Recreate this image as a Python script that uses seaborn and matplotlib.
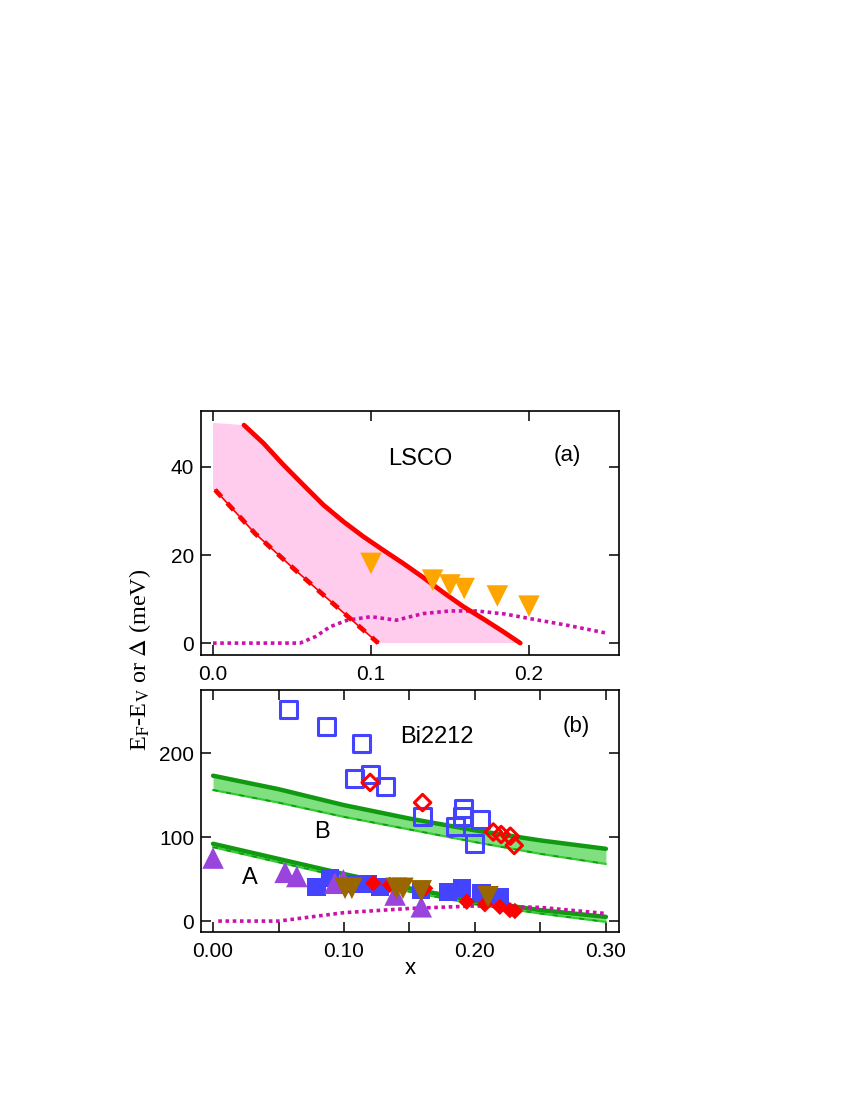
import numpy as np
import pandas as pd
import matplotlib
matplotlib.use("Agg")
import matplotlib.pyplot as plt
import seaborn as sns
from matplotlib.ticker import MultipleLocator, FormatStrFormatter

# ---- panel (a) LSCO ----
lsco_solid_x = [0.0196, 0.0319, 0.0445, 0.0572, 0.0698, 0.0825, 0.0951, 0.1078, 0.1204,
                0.1331, 0.1458, 0.1584, 0.1711, 0.1837, 0.1945]
lsco_solid_y = [49.5, 45.4, 40.5, 35.9, 31.4, 27.6, 24.2, 21.1, 18.1, 14.9, 11.5, 8.3, 5.5, 2.6, 0.0]
lsco_dash_x = [0.0013, 0.0266, 0.0508, 0.0772, 0.1046]
lsco_dash_y = [34.8, 24.9, 17.0, 8.6, 0.0]
shade_top = 50.0
gap_a_x = [0.000, 0.055, 0.065, 0.074, 0.085, 0.100, 0.116, 0.133, 0.150, 0.167, 0.185, 0.200, 0.225, 0.250]
gap_a_y = [0.0, 0.0, 1.5, 3.7, 5.2, 6.0, 5.2, 6.7, 7.3, 7.3, 6.6, 5.6, 4.0, 2.2]
orange_x = [0.100, 0.139, 0.150, 0.159, 0.180, 0.200]
orange_y = [18.1, 14.3, 13.2, 12.4, 10.7, 8.4]

# ---- panel (b) Bi2212 ----
band_x = [0.00, 0.05, 0.10, 0.15, 0.20, 0.25, 0.30]
bandB_top = [173, 157, 138, 122, 108, 96, 86]
bandB_bot = [156, 141, 124, 109, 94, 80, 68]
bandA_top = [92, 74, 56, 39, 24, 13, 5]
bandA_bot = [88, 70, 52, 35, 20, 9, -1]
gap_b_x = [0.004, 0.050, 0.075, 0.100, 0.150, 0.200, 0.250, 0.300]
gap_b_y = [0, 0, 5, 10, 15, 18, 16.3, 9]

open_sq_x = [0.0575, 0.0863, 0.1135, 0.108, 0.1206, 0.132, 0.160, 0.185, 0.1916, 0.1906, 0.204, 0.200]
open_sq_y = [252, 231, 211, 170, 174, 160, 124, 112, 134, 124, 121, 92]
open_dia_x = [0.120, 0.160, 0.214, 0.220, 0.227, 0.230]
open_dia_y = [165, 141, 106, 103, 101, 90]
tri_x = [0.000, 0.055, 0.064, 0.093, 0.0995, 0.139, 0.159]
tri_y = [75, 58, 53, 45, 49, 31, 17]
fill_sq_x = [0.079, 0.0893, 0.106, 0.1186, 0.1275, 0.159, 0.1796, 0.190, 0.205, 0.219]
fill_sq_y = [41, 51, 44, 44, 41, 37, 35, 39, 33, 29]
fill_dia_x = [0.1224, 0.135, 0.162, 0.1937, 0.2076, 0.219, 0.2267, 0.2305]
fill_dia_y = [45, 43, 39, 23, 20, 17, 13, 12]
brown_x = [0.1008, 0.106, 0.140, 0.145, 0.159, 0.210]
brown_y = [39, 39, 39, 39, 36, 29]

sns.set_style("ticks")
plt.rcParams['font.family'] = ['Liberation Sans', 'DejaVu Sans']
plt.rcParams['mathtext.fontset'] = 'stix'
for k in ['text.color', 'axes.labelcolor', 'xtick.color', 'ytick.color', 'axes.edgecolor']:
    plt.rcParams[k] = 'black'

RED = '#ff0000'
PINK = '#ffccee'
MAG = '#cc11aa'
DKGREEN = '#119911'
LTGREEN = '#33cc33'
FILLGREEN = '#80e080'


def style_axes(ax):
    for s in ax.spines.values():
        s.set_linewidth(1.2)
        s.set_color('black')
    ax.tick_params(which='both', direction='in', top=True, right=True,
                   length=7, width=1.1, labelsize=15, color='black', labelcolor='black')
    ax.tick_params(axis='x', which='both', pad=7)
    ax.tick_params(axis='y', which='both', pad=5)
    ax.set_xlabel('')
    ax.set_ylabel('')


def line(ax, x, y, **kw):
    sns.lineplot(x=x, y=y, ax=ax, sort=False, estimator=None, legend=False, **kw)


fig = plt.figure(figsize=(8.5, 11), dpi=100)
ax_a = fig.add_axes([201 / 850, 1 - 655 / 1100, 418 / 850, 244 / 1100])
ax_b = fig.add_axes([201 / 850, 1 - 932 / 1100, 418 / 850, 242 / 1100])

# ---- panel (a) ----
# shaded region between dashed and solid curves, capped at the top
poly_x = [0.0] + lsco_solid_x + lsco_dash_x[::-1] + [0.0]
poly_y = [shade_top] + lsco_solid_y + lsco_dash_y[::-1] + [lsco_dash_y[0]]
ax_a.fill(poly_x, poly_y, color=PINK, lw=0, zorder=1)
line(ax_a, lsco_solid_x, lsco_solid_y, color=RED, lw=3.4, zorder=3)
line(ax_a, lsco_dash_x, lsco_dash_y, color=RED, lw=1.2, zorder=3)
line(ax_a, lsco_dash_x, lsco_dash_y, color=RED, lw=3.4, linestyle=(0, (2.0, 1.8)), zorder=3)
line(ax_a, gap_a_x, gap_a_y, color=MAG, lw=2.6, linestyle=(0, (1, 1)), zorder=2)
sns.scatterplot(x=orange_x, y=orange_y, ax=ax_a, marker='v', s=240, color='#ffa500',
                edgecolor='none', zorder=4, legend=False)
ax_a.text(0.131, 41.8, 'LSCO', fontsize=17, ha='center', va='center')
ax_a.text(0.224, 42.5, '(a)', fontsize=16, ha='center', va='center')
ax_a.set_xlim(-0.0076, 0.257)
ax_a.set_ylim(-2.7, 52.7)
ax_a.xaxis.set_major_locator(MultipleLocator(0.1))
ax_a.xaxis.set_major_formatter(FormatStrFormatter('%.1f'))
ax_a.yaxis.set_major_locator(MultipleLocator(20))
style_axes(ax_a)

# ---- panel (b) ----
ax_b.fill_between(band_x, bandB_bot, bandB_top, color=FILLGREEN, lw=0, zorder=1)
ax_b.fill_between(band_x, bandA_bot, bandA_top, color=FILLGREEN, lw=0, zorder=1)
for top, bot in [(bandB_top, bandB_bot), (bandA_top, bandA_bot)]:
    line(ax_b, band_x, top, color=DKGREEN, lw=3.2, zorder=2)
    line(ax_b, band_x, bot, color=LTGREEN, lw=1.6, zorder=2)
    line(ax_b, band_x, bot, color=DKGREEN, lw=1.2, linestyle=(0, (3, 5)), zorder=2)
line(ax_b, gap_b_x, gap_b_y, color=MAG, lw=2.6, linestyle=(0, (1, 1)), zorder=2)

sns.scatterplot(x=open_sq_x, y=open_sq_y, ax=ax_b, marker='s', s=150, facecolor='none',
                edgecolor='#4444ff', linewidth=2.2, zorder=3, legend=False)
sns.scatterplot(x=open_dia_x, y=open_dia_y, ax=ax_b, marker='D', s=70, facecolor='none',
                edgecolor=RED, linewidth=2.2, zorder=4, legend=False)
sns.scatterplot(x=fill_sq_x, y=fill_sq_y, ax=ax_b, marker='s', s=170, color='#4444ff',
                edgecolor='none', zorder=3, legend=False)
sns.scatterplot(x=tri_x, y=tri_y, ax=ax_b, marker='^', s=240, color='#9944dd',
                edgecolor='none', zorder=4, legend=False)
sns.scatterplot(x=fill_dia_x, y=fill_dia_y, ax=ax_b, marker='D', s=70, color=RED,
                edgecolor='none', zorder=5, legend=False)
sns.scatterplot(x=brown_x, y=brown_y, ax=ax_b, marker='v', s=240, color='#996600',
                edgecolor='none', zorder=6, legend=False)

ax_b.text(0.171, 219, 'Bi2212', fontsize=17, ha='center', va='center')
ax_b.text(0.2776, 231, '(b)', fontsize=16, ha='center', va='center')
ax_b.text(0.083, 106, 'B', fontsize=17, ha='center', va='center')
ax_b.text(0.028, 51, 'A', fontsize=17, ha='center', va='center')
ax_b.set_xlim(-0.0092, 0.31)
ax_b.set_ylim(-13, 275)
ax_b.xaxis.set_major_locator(MultipleLocator(0.1))
ax_b.xaxis.set_minor_locator(MultipleLocator(0.05))
ax_b.xaxis.set_major_formatter(FormatStrFormatter('%.2f'))
ax_b.yaxis.set_major_locator(MultipleLocator(100))
style_axes(ax_b)
ax_b.set_xlabel('x', fontsize=16, labelpad=-2)

fig.text(140 / 850, 1 - 660 / 1100, r'E$_\mathrm{F}$-E$_\mathrm{V}$ or $\Delta$ (meV)',
         rotation=90, ha='center', va='center', fontsize=17.5,
         family=['Liberation Serif', 'DejaVu Serif'])

fig.savefig('out.png', dpi=100, facecolor='white')
